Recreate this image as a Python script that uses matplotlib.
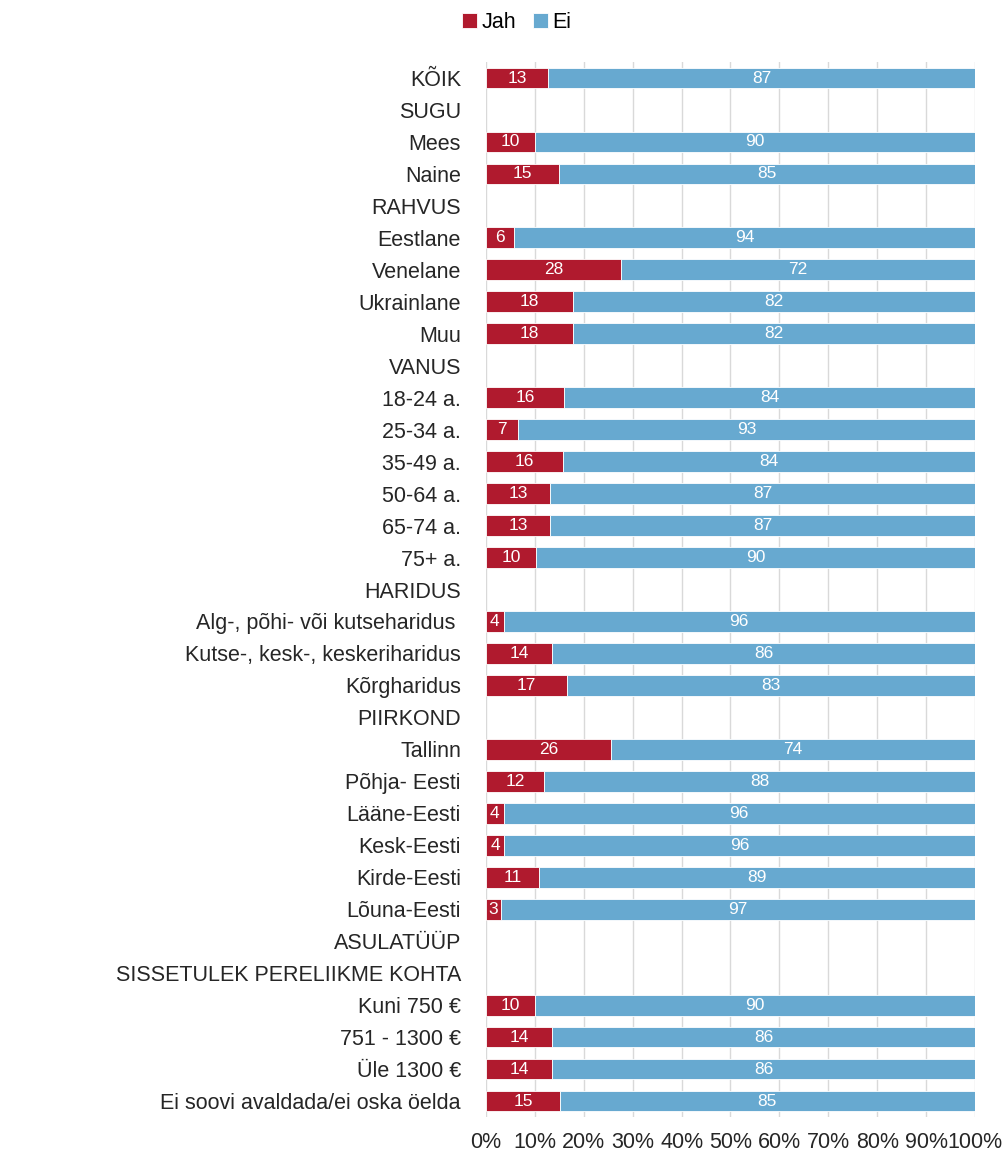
import numpy as np
import matplotlib.pyplot as plt
from matplotlib.ticker import PercentFormatter

plt.rcParams['font.family'] = ['Liberation Sans', 'DejaVu Sans']

categories = ["KÕIK", "SUGU", "Mees", "Naine", "RAHVUS", "Eestlane", "Venelane",
              "Ukrainlane", "Muu", "VANUS", "18-24 a.", "25-34 a.", "35-49 a.",
              "50-64 a.", "65-74 a.", "75+ a.", "HARIDUS",
              "Alg-, põhi- või kutseharidus ", "Kutse-, kesk-, keskeriharidus",
              "Kõrgharidus", "PIIRKOND", "Tallinn", "Põhja- Eesti", "Lääne-Eesti",
              "Kesk-Eesti", "Kirde-Eesti", "Lõuna-Eesti", "ASULATÜÜP",
              "SISSETULEK PERELIIKME KOHTA", "Kuni 750 €", "751 - 1300 €",
              "Üle 1300 €", "Ei soovi avaldada/ei oska öelda"]

# share answering "Jah" (NaN = group heading, no bar)
jah = [12.7, np.nan, 10.0, 14.9, np.nan, 5.7, 27.6, 17.8, 17.8, np.nan,
       16.0, 6.6, 15.7, 13.1, 13.1, 10.2, np.nan, 3.6, 13.6, 16.6, np.nan,
       25.6, 11.9, 3.6, 3.7, 10.8, 3.1, np.nan, np.nan, 10.0, 13.6, 13.6, 15.1]
ei = [100 - v for v in jah]

red = "#b01a2e"
blue = "#67a9d0"

fig = plt.figure(figsize=(10.07, 11.53), dpi=100)
ax = fig.add_axes([0.4826, 0.0312, 0.4856, 0.9150])

y = np.arange(len(categories))
h = 0.65
b1 = ax.barh(y, jah, height=h, color=red, edgecolor="white", linewidth=0.6, label="Jah")
b2 = ax.barh(y, ei, left=jah, height=h, color=blue, edgecolor="white", linewidth=0.6, label="Ei")

for bars, vals in ((b1, jah), (b2, ei)):
    for rect, v in zip(bars, vals):
        if np.isnan(v):
            continue
        ax.text(rect.get_x() + rect.get_width() / 2, rect.get_y() + rect.get_height() / 2,
                f"{v:.0f}", color="white", fontsize=12.5, ha="center", va="center")

ax.set_xlim(0, 100)
ax.set_ylim(len(categories) - 0.5, -0.5)
ax.set_xticks(np.arange(0, 101, 10))
ax.xaxis.set_major_formatter(PercentFormatter(decimals=0))
ax.set_yticks(y)
ax.set_yticklabels(categories, fontsize=15.5, color="#262626")
ax.tick_params(axis="x", labelsize=15.5, labelcolor="#262626", length=0, pad=11)
ax.tick_params(axis="y", length=0, pad=18)
ax.grid(axis="x", color="#d9d9d9", linewidth=1)
ax.set_axisbelow(True)
for s in ax.spines.values():
    s.set_visible(False)

fig.legend(handles=[b1, b2], loc="upper center", bbox_to_anchor=(0.513, 1.006), ncol=2,
           frameon=False, fontsize=15.5, handlelength=0.7, handleheight=0.7,
           handletextpad=0.2, columnspacing=0.8)

fig.savefig("out.png", dpi=100)
